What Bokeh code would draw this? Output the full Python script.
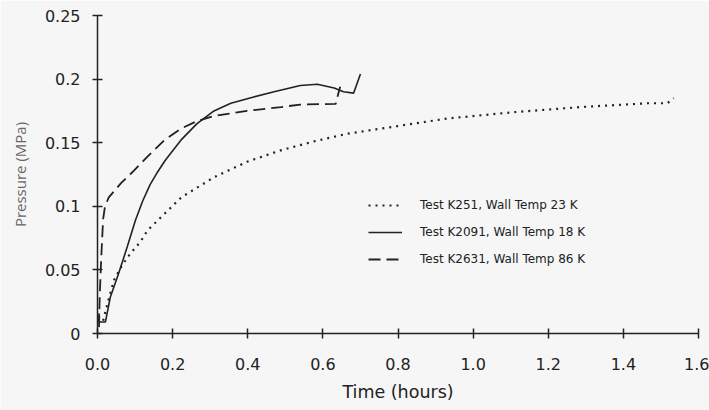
from bokeh.plotting import figure
from bokeh.models import Range1d, FixedTicker, Legend, LegendItem, NumeralTickFormatter
from bokeh.embed import file_html
from bokeh.resources import INLINE

# ---- data ----
t_k251 = [0.015, 0.027, 0.044, 0.066, 0.088, 0.114, 0.133, 0.178, 0.223, 0.311, 0.398, 0.488,
          0.576, 0.664, 0.753, 0.931, 1.108, 1.286, 1.464, 1.517, 1.534]
p_k251 = [0.010, 0.024, 0.042, 0.054, 0.063, 0.072, 0.081, 0.094, 0.107, 0.123, 0.135, 0.144,
          0.151, 0.157, 0.161, 0.169, 0.174, 0.178, 0.181, 0.181, 0.185]

t_k2091 = [0.004, 0.004, 0.021, 0.034, 0.056, 0.079, 0.101, 0.120, 0.140, 0.160, 0.180, 0.222,
           0.265, 0.310, 0.355, 0.416, 0.470, 0.540, 0.585, 0.630, 0.655, 0.682, 0.700]
p_k2091 = [0.016, 0.009, 0.009, 0.0285, 0.047, 0.068, 0.089, 0.104, 0.117, 0.127, 0.136, 0.152,
           0.165, 0.175, 0.181, 0.186, 0.190, 0.195, 0.196, 0.193, 0.190, 0.189, 0.204]

t_k2631 = [0.004, 0.006, 0.010, 0.015, 0.020, 0.030, 0.062, 0.097, 0.133, 0.178, 0.222, 0.265,
           0.310, 0.398, 0.488, 0.540, 0.634, 0.646]
p_k2631 = [0.005, 0.030, 0.060, 0.090, 0.100, 0.107, 0.118, 0.128, 0.139, 0.152, 0.161, 0.167,
           0.171, 0.175, 0.178, 0.180, 0.1805, 0.194]

series_labels = ["Test K251, Wall Temp 23 K",
                 "Test K2091, Wall Temp 18 K",
                 "Test K2631, Wall Temp 86 K"]

x_ticks = [0.0, 0.2, 0.4, 0.6, 0.8, 1.0, 1.2, 1.4, 1.6]
y_ticks = [0.0, 0.05, 0.1, 0.15, 0.2, 0.25]
y_tick_labels = ["0", "0.05", "0.1", "0.15", "0.2", "0.25"]

BG = "#f6f6f6"
INK = "#222222"

p = figure(width=709, height=410, output_backend="svg", toolbar_location=None,
           x_range=Range1d(0, 1.6), y_range=Range1d(0, 0.25),
           min_border_left=97, min_border_right=11, min_border_top=15, min_border_bottom=77,
           background_fill_color=BG, border_fill_color=BG)
p.outline_line_color = None
p.grid.visible = False

r1 = p.line(t_k251, p_k251, line_color=INK, line_width=2.2, line_dash="2 5")
r2 = p.line(t_k2091, p_k2091, line_color=INK, line_width=1.6)
r3 = p.line(t_k2631, p_k2631, line_color=INK, line_width=1.8, line_dash="12 6")

for ax in (p.xaxis[0], p.yaxis[0]):
    ax.axis_line_color = INK
    ax.axis_line_width = 1.5
    ax.major_tick_line_color = INK
    ax.major_tick_line_width = 1.5
    ax.major_tick_in = 5
    ax.major_tick_out = 5
    ax.minor_tick_line_color = None
    ax.major_label_text_font = "DejaVu Sans"
    ax.major_label_text_font_size = "16px"
    ax.major_label_text_color = INK

p.xaxis.ticker = FixedTicker(ticks=x_ticks)
p.xaxis.formatter = NumeralTickFormatter(format="0.0")
p.xaxis.major_label_standoff = 19
p.xaxis.axis_label = "Time (hours)"
p.xaxis.axis_label_text_font = "DejaVu Sans"
p.xaxis.axis_label_text_font_style = "normal"
p.xaxis.axis_label_text_font_size = "17.5px"
p.xaxis.axis_label_text_color = INK
p.xaxis.axis_label_standoff = 9

p.yaxis.ticker = FixedTicker(ticks=y_ticks)
p.yaxis.major_label_overrides = {t: l for t, l in zip(y_ticks, y_tick_labels)}
p.yaxis.major_label_standoff = 12
p.yaxis.axis_label = "Pressure (MPa)"
p.yaxis.axis_label_text_font = "Open Sans"
p.yaxis.axis_label_text_font_style = "normal"
p.yaxis.axis_label_text_font_size = "15px"
p.yaxis.axis_label_text_color = "#666666"
p.yaxis.axis_label_standoff = 12

legend = Legend(items=[LegendItem(label=series_labels[0], renderers=[r1]),
                       LegendItem(label=series_labels[1], renderers=[r2]),
                       LegendItem(label=series_labels[2], renderers=[r3])],
                location=(271, 64), glyph_width=34, glyph_height=20, label_height=20,
                label_standoff=18, spacing=7, padding=0, margin=0,
                border_line_color=None, background_fill_alpha=0,
                label_text_font="DejaVu Sans", label_text_font_size="12px",
                label_text_color=INK)
p.add_layout(legend)

open("out.html", "w").write(file_html(p, INLINE))
